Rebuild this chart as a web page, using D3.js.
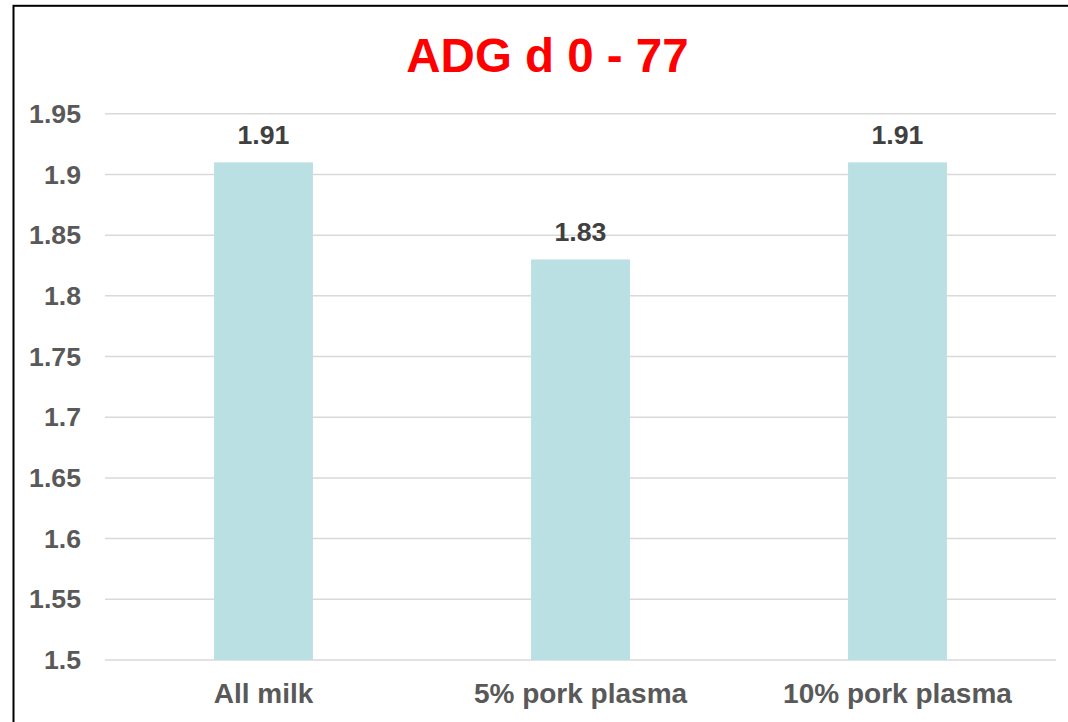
<!DOCTYPE html>
<html>
<head>
<meta charset="utf-8">
<script src="https://cdn.jsdelivr.net/npm/d3@7"></script>
<style>
  html, body { margin: 0; padding: 0; background: #fff; }
  svg { display: block; font-family: Arial, "Liberation Sans", sans-serif; }
</style>
</head>
<body>
<svg id="chart" width="1068" height="722"></svg>
<script>
// Average daily gain, day 0 to 77, by diet
const categories = ["All milk", "5% pork plasma", "10% pork plasma"];
const adgValues = [1.91, 1.83, 1.91];
const yTicks = [1.5, 1.55, 1.6, 1.65, 1.7, 1.75, 1.8, 1.85, 1.9, 1.95];
const yTickLabels = ["1.5", "1.55", "1.6", "1.65", "1.7", "1.75", "1.8", "1.85", "1.9", "1.95"];
const chartTitle = "ADG d 0 - 77";

const svg = d3.select("#chart");
const plot = { left: 105, right: 1056, top: 113.8, bottom: 660 };

// Chart frame (left and top edges visible)
svg.append("rect")
  .attr("x", 13.5).attr("y", 5.8)
  .attr("width", 2000).attr("height", 2000)
  .attr("fill", "none").attr("stroke", "#000").attr("stroke-width", 2);

const x = d3.scaleBand()
  .domain(categories)
  .range([plot.left, plot.right])
  .paddingInner(0.688)
  .paddingOuter(0.344);

const y = d3.scaleLinear()
  .domain([1.5, 1.95])
  .range([plot.bottom, plot.top]);

// Horizontal gridlines
svg.append("g")
  .selectAll("line")
  .data(yTicks)
  .join("line")
  .attr("x1", plot.left).attr("x2", plot.right)
  .attr("y1", d => y(d)).attr("y2", d => y(d))
  .attr("stroke", "#d9d9d9").attr("stroke-width", 1.5);

// Y axis labels
const yAxis = d3.axisLeft(y)
  .tickValues(yTicks)
  .tickFormat((d, i) => yTickLabels[i])
  .tickSize(0)
  .tickPadding(0);
const yG = svg.append("g")
  .attr("transform", `translate(81,0)`)
  .call(yAxis);
yG.select(".domain").remove();
yG.selectAll("text")
  .attr("fill", "#595959")
  .attr("font-size", "26.67px")
  .attr("font-weight", "bold")
  .attr("font-family", "Arial, 'Liberation Sans', sans-serif");

// Bars
const bandW = x.bandwidth();
svg.append("g")
  .selectAll("rect")
  .data(adgValues)
  .join("rect")
  .attr("x", (d, i) => x(categories[i]))
  .attr("y", d => y(d))
  .attr("width", bandW)
  .attr("height", d => y(1.5) - y(d))
  .attr("fill", "#bbe0e3");

// Value labels
svg.append("g")
  .selectAll("text")
  .data(adgValues)
  .join("text")
  .attr("x", (d, i) => x(categories[i]) + bandW / 2)
  .attr("y", d => y(d) - 18)
  .attr("text-anchor", "middle")
  .attr("fill", "#404040")
  .attr("font-size", "26.67px")
  .attr("font-weight", "bold")
  .text(d => d3.format(".2f")(d));

// Category axis labels
const xAxis = d3.axisBottom(x).tickSize(0).tickPadding(0);
const xG = svg.append("g")
  .attr("transform", `translate(0,${plot.bottom})`)
  .call(xAxis);
xG.select(".domain").remove();
xG.selectAll("text")
  .attr("dy", null)
  .attr("y", 43)
  .attr("fill", "#595959")
  .attr("font-size", "28px")
  .attr("font-weight", "bold")
  .attr("font-family", "Arial, 'Liberation Sans', sans-serif");

// Title
svg.append("text")
  .attr("x", 547.5)
  .attr("y", 71.5)
  .attr("text-anchor", "middle")
  .attr("fill", "#ff0000")
  .attr("font-size", "47.5px")
  .attr("font-weight", "bold")
  .text(chartTitle);
</script>
</body>
</html>
